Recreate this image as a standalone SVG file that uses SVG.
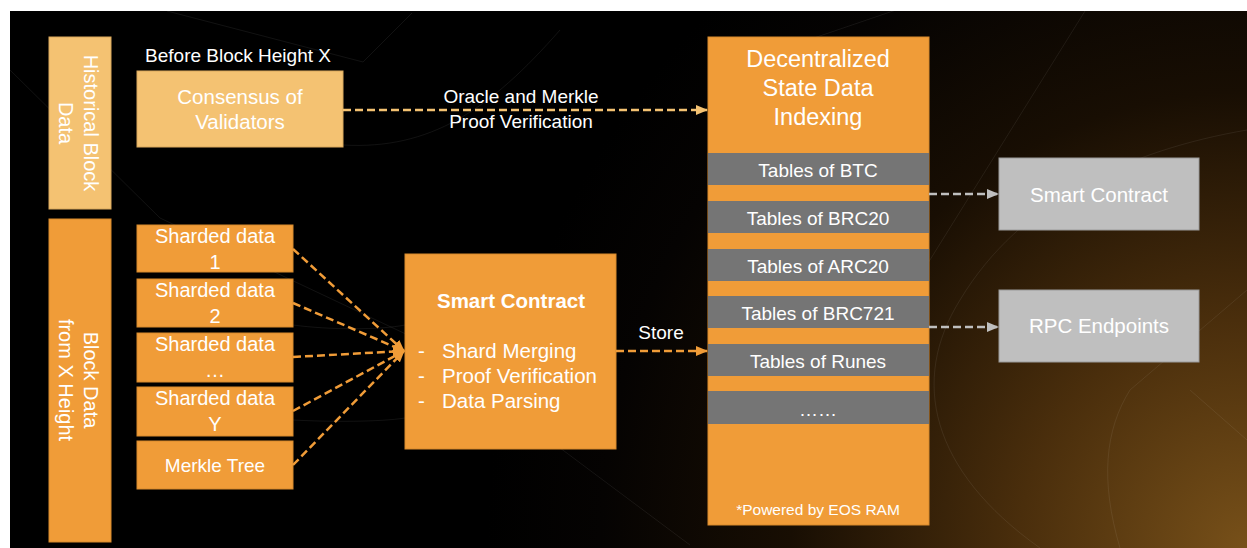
<svg xmlns="http://www.w3.org/2000/svg" width="1247" height="548" viewBox="0 0 1247 548">
  <defs>
    <radialGradient id="bgGlow" cx="1247" cy="548" r="760" gradientUnits="userSpaceOnUse">
      <stop offset="0" stop-color="#775019"/>
      <stop offset="0.3" stop-color="#4a2e0c"/>
      <stop offset="0.6" stop-color="#180e03"/>
      <stop offset="0.85" stop-color="#050302"/>
      <stop offset="1" stop-color="#000000"/>
    </radialGradient>
    <marker id="headOrange" markerWidth="12" markerHeight="10" refX="11" refY="5" orient="auto" markerUnits="userSpaceOnUse">
      <path d="M0,0 L12,5 L0,10 Z" fill="#f09c38"/>
    </marker>
    <marker id="headLight" markerWidth="12" markerHeight="10" refX="11" refY="5" orient="auto" markerUnits="userSpaceOnUse">
      <path d="M0,0 L12,5 L0,10 Z" fill="#f4c272"/>
    </marker>
    <marker id="headGrey" markerWidth="12" markerHeight="10" refX="11" refY="5" orient="auto" markerUnits="userSpaceOnUse">
      <path d="M0,0 L12,5 L0,10 Z" fill="#bfbfbf"/>
    </marker>
    <style>
      text { font-family: "Liberation Sans", Arial, sans-serif; fill: #ffffff; }
      .c { text-anchor: middle; }
      .light { fill: #f4c272; stroke: #d9a85c; stroke-width: 1; }
      .orange { fill: #f09c38; stroke: #d88a2c; stroke-width: 1; }
      .bar { fill: #757575; }
      .grey { fill: #bfbfbf; stroke: #9a9a9a; stroke-width: 1; }
      .dash { fill: none; stroke-width: 2.5; stroke-dasharray: 8 4; }
      .faint { fill: none; stroke: #ffffff; stroke-opacity: 0.07; stroke-width: 1; }
    </style>
  </defs>

  <!-- page and dark panel -->
  <rect x="0" y="0" width="1247" height="548" fill="#ffffff"/>
  <rect x="10" y="11" width="1237" height="537" fill="url(#bgGlow)"/>

  <!-- decorative background strokes -->
  <g id="backdrop">
    <path class="faint" d="M167,11 L363,62 L412,13"/>
    <path class="faint" d="M10,70 L160,218 L410,336 L690,545"/>
    <path class="faint" d="M343,145 C430,150 490,110 560,30"/>
    <path class="faint" d="M293,325 C330,330 380,330 405,325"/>
    <path class="faint" d="M293,420 C330,422 380,422 405,418"/>
    <path class="faint" d="M720,70 L940,-5"/>
    <path class="faint" d="M905,300 L1085,11"/>
    <path class="faint" d="M1040,548 C930,470 910,380 960,300 C1020,200 1130,150 1247,130"/>
    <path class="faint" d="M1120,548 C1100,480 1105,430 1130,390 L1247,290"/>
    <path class="faint" d="M1190,390 L1247,440"/>
  </g>

  <g id="historical-block-data">
    <rect class="light" x="49" y="37" width="62" height="172"/>
    <g transform="translate(80,123) rotate(90)">
      <text class="c" x="0" y="-4" font-size="20">Historical Block</text>
      <text class="c" x="0" y="21" font-size="20">Data</text>
    </g>
  </g>

  <g id="block-data-x-height">
    <rect class="orange" x="49" y="219" width="62" height="323"/>
    <g transform="translate(80,380) rotate(90)">
      <text class="c" x="0" y="-4" font-size="20">Block Data</text>
      <text class="c" x="0" y="21" font-size="20">from X Height</text>
    </g>
  </g>

  <g id="before-height-label">
    <text class="c" x="238" y="62" font-size="19">Before Block Height X</text>
  </g>

  <g id="consensus">
    <rect class="light" x="137" y="71" width="206" height="76"/>
    <text class="c" x="240" y="104" font-size="20.5">Consensus of</text>
    <text class="c" x="240" y="129" font-size="20.5">Validators</text>
  </g>

  <g id="shard-1">
    <rect class="orange" x="137" y="225" width="156" height="47"/>
    <text class="c" x="215" y="243" font-size="20">Sharded data</text>
    <text class="c" x="215" y="269" font-size="20">1</text>
  </g>
  <g id="shard-2">
    <rect class="orange" x="137" y="279" width="156" height="48"/>
    <text class="c" x="215" y="297" font-size="20">Sharded data</text>
    <text class="c" x="215" y="323" font-size="20">2</text>
  </g>
  <g id="shard-n">
    <rect class="orange" x="137" y="333" width="156" height="49"/>
    <text class="c" x="215" y="351" font-size="20">Sharded data</text>
    <text class="c" x="215" y="377" font-size="20">…</text>
  </g>
  <g id="shard-y">
    <rect class="orange" x="137" y="387" width="156" height="49"/>
    <text class="c" x="215" y="405" font-size="20">Sharded data</text>
    <text class="c" x="215" y="431" font-size="20">Y</text>
  </g>
  <g id="merkle-tree">
    <rect class="orange" x="137" y="441" width="156" height="48"/>
    <text class="c" x="215" y="472" font-size="19">Merkle Tree</text>
  </g>

  <g id="smart-contract-core">
    <rect class="orange" x="405" y="254" width="211" height="195"/>
    <text class="c" x="511" y="308" font-size="20.5" font-weight="bold">Smart Contract</text>
    <text x="418" y="358" font-size="20.5">-</text>
    <text x="442" y="358" font-size="20.5">Shard Merging</text>
    <text x="418" y="383" font-size="20.5">-</text>
    <text x="442" y="383" font-size="20.5">Proof Verification</text>
    <text x="418" y="408" font-size="20.5">-</text>
    <text x="442" y="408" font-size="20.5">Data Parsing</text>
  </g>

  <g id="state-indexing">
    <rect class="orange" x="708" y="37" width="221" height="488"/>
    <text class="c" x="818" y="67" font-size="23.5">Decentralized</text>
    <text class="c" x="818" y="96" font-size="23.5">State Data</text>
    <text class="c" x="818" y="125" font-size="23.5">Indexing</text>
    <rect class="bar" x="708" y="153" width="221" height="32"/>
    <text class="c" x="818" y="177" font-size="19">Tables of BTC</text>
    <rect class="bar" x="708" y="201" width="221" height="32"/>
    <text class="c" x="818" y="225" font-size="19">Tables of BRC20</text>
    <rect class="bar" x="708" y="249" width="221" height="32"/>
    <text class="c" x="818" y="273" font-size="19">Tables of ARC20</text>
    <rect class="bar" x="708" y="296" width="221" height="32"/>
    <text class="c" x="818" y="320" font-size="19">Tables of BRC721</text>
    <rect class="bar" x="708" y="344" width="221" height="32"/>
    <text class="c" x="818" y="368" font-size="19">Tables of Runes</text>
    <rect class="bar" x="708" y="391" width="221" height="33"/>
    <text class="c" x="818" y="416" font-size="19">……</text>
    <text class="c" x="818" y="515" font-size="15.5">*Powered by EOS RAM</text>
  </g>

  <g id="smart-contract-out">
    <rect class="grey" x="999" y="158" width="200" height="72"/>
    <text class="c" x="1099" y="202" font-size="20.5">Smart Contract</text>
  </g>

  <g id="rpc-endpoints">
    <rect class="grey" x="999" y="290" width="200" height="72"/>
    <text class="c" x="1099" y="333" font-size="20.5">RPC Endpoints</text>
  </g>

  <g id="connectors">
    <path class="dash" stroke="#f4c272" d="M343,110 L707,110" marker-end="url(#headLight)"/>
    <text class="c" x="521" y="103" font-size="19">Oracle and Merkle</text>
    <text class="c" x="521" y="128" font-size="19">Proof Verification</text>

    <path class="dash" stroke="#f09c38" d="M293,249 L404,351" marker-end="url(#headOrange)"/>
    <path class="dash" stroke="#f09c38" d="M293,303 L404,351" marker-end="url(#headOrange)"/>
    <path class="dash" stroke="#f09c38" d="M293,357 L404,351" marker-end="url(#headOrange)"/>
    <path class="dash" stroke="#f09c38" d="M293,411 L404,351" marker-end="url(#headOrange)"/>
    <path class="dash" stroke="#f09c38" d="M293,465 L404,351" marker-end="url(#headOrange)"/>

    <path class="dash" stroke="#f09c38" d="M616,351 L707,351" marker-end="url(#headOrange)"/>
    <text class="c" x="661" y="339" font-size="19">Store</text>

    <path class="dash" stroke="#bfbfbf" d="M929,194 L998,194" marker-end="url(#headGrey)"/>
    <path class="dash" stroke="#bfbfbf" d="M929,327 L998,327" marker-end="url(#headGrey)"/>
  </g>
</svg>
